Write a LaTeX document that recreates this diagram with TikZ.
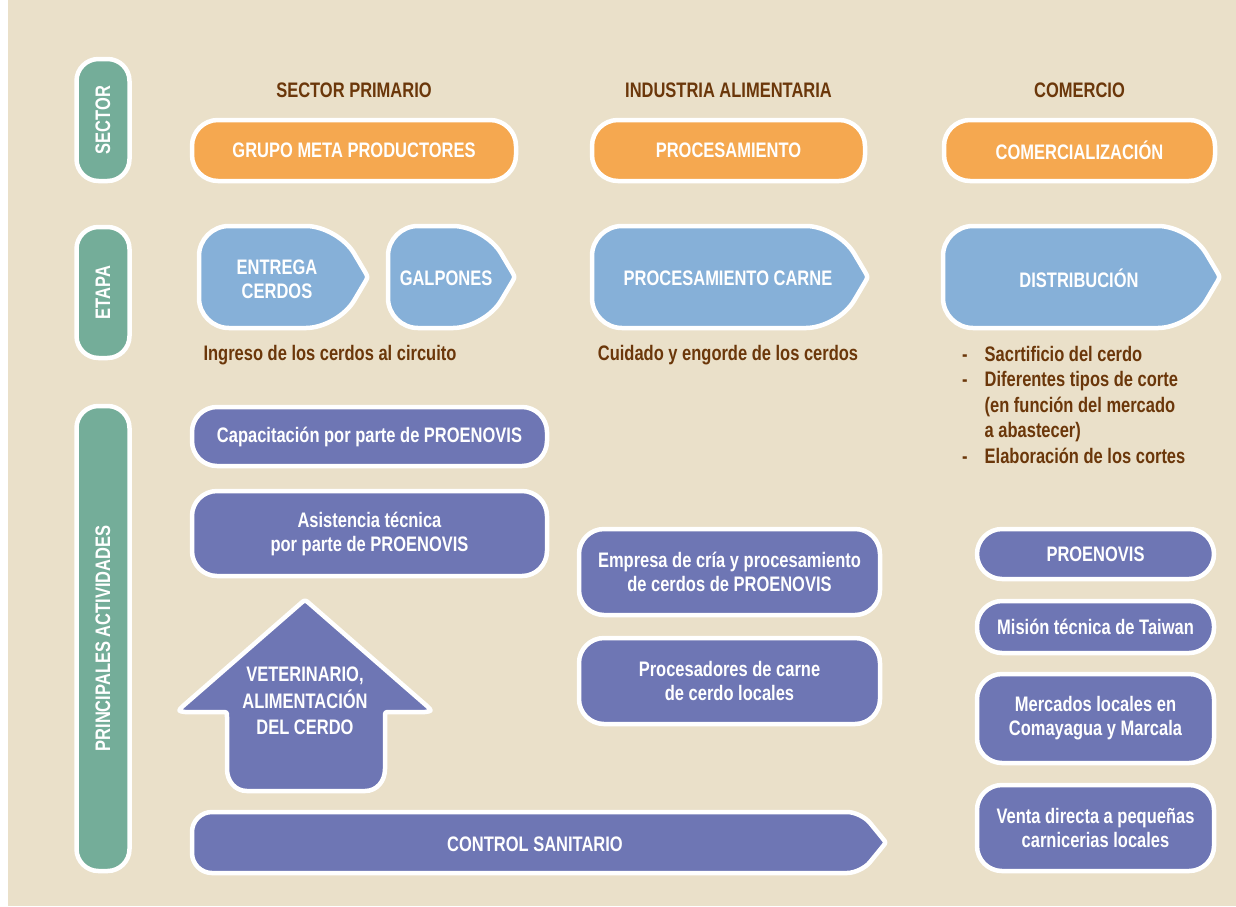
\documentclass[tikz,border=0pt]{standalone}
\usepackage{fontspec}
\setmainfont{Liberation Sans}[FakeStretch=0.785]
\definecolor{fondo}{RGB}{234,224,201}
\definecolor{verde}{RGB}{116,173,153}
\definecolor{naranja}{RGB}{245,168,80}
\definecolor{celeste}{RGB}{134,176,216}
\definecolor{lila}{RGB}{110,118,180}
\definecolor{marron}{RGB}{107,55,10}
% arrow shaped boxes (x start, x tip)
\def\etapa#1#2{(#1,256) .. controls (#1,239.5) and ({#1+13.5},226) .. ({#1+30},226) -- ({#2-62},226) .. controls ({#2-44.4},226) and ({#2-22.7},238.4) .. ({#2-13.8},253.6) -- ({#2-3},271.8) .. controls (#2,277) .. ({#2-3},282.2) -- ({#2-13.8},300.4) .. controls ({#2-22.7},315.6) and ({#2-44.4},328) .. ({#2-62},328) -- ({#1+30},328) .. controls ({#1+13.5},328) and (#1,314.5) .. (#1,298) -- cycle}
\def\control{(192,832) .. controls (192,821) and (201,812) .. (212,812) -- (847,812) .. controls (854.7,812) and (865,816.9) .. (869.9,822.8) -- (882.8,838.6) .. controls (886,842.5) .. (882.8,846.4) -- (869.9,862.2) .. controls (865,868.1) and (854.7,873) .. (847,873) -- (212,873) .. controls (201,873) and (192,864) .. (192,853) -- cycle}
\def\arriba{(300,604) .. controls (305,599.5) .. (310,604) -- (427,706) .. controls (432,711) .. (425,712) -- (390,712) .. controls (385,712) .. (385,717) -- (385,769) .. controls (385,781) and (377,791) .. (365,791) -- (247,791) .. controls (235,791) and (227,781) .. (227,769) -- (227,717) .. controls (227,712) .. (222,712) -- (185,712) .. controls (178,711) .. (183,706) -- cycle}
\tikzset{
  every node/.style={font=\bfseries\fontsize{21}{24}\selectfont, text=white, align=center, inner sep=0pt},
  pilar/.style={fill=verde, draw=white, line width=4.5pt, rounded corners=22pt, rotate=90, minimum height=53pt},
  grupo/.style={fill=naranja, draw=white, line width=4.5pt, rounded corners=26pt, minimum height=61pt},
  actividad/.style={fill=lila, draw=white, line width=4.5pt, rounded corners=25pt},
  titulo/.style={text=marron},
  borde/.style={draw=white, line width=4.5pt, line join=round}
}
\begin{document}
\begin{tikzpicture}[x=1pt,y=-1pt]
\useasboundingbox (0,0) rectangle (1236,906);
\fill[white] (0,0) rectangle (1236,906);
\fill[fondo] (8,0) rectangle (1236,906);

% left column
\node[pilar, minimum width=122pt] (sector) at (103,120) {SECTOR};
\node[pilar, minimum width=131pt] (etapa) at (103,292.5) {ETAPA};
\node[pilar, minimum width=465pt] (actividades) at (103,638.5) {PRINCIPALES ACTIVIDADES};

% sector row
\node[titulo] (primario) at (354,90) {SECTOR PRIMARIO};
\node[titulo] (industria) at (728.5,90) {INDUSTRIA ALIMENTARIA};
\node[titulo] (comercio) at (1079.5,90) {COMERCIO};
\node[grupo, minimum width=324pt] (productores) at (354,150.5) {GRUPO META PRODUCTORES};
\node[grupo, minimum width=273pt] (procesamiento) at (728.5,150.5) {PROCESAMIENTO};
\node[grupo, minimum width=271pt] (comercializacion) at (1079.5,150.5) {COMERCIALIZACIÓN};

% etapa row
\filldraw[borde, fill=celeste] \etapa{199}{368};
\filldraw[borde, fill=celeste] \etapa{388}{515};
\filldraw[borde, fill=celeste] \etapa{592}{868};
\filldraw[borde, fill=celeste] \etapa{943}{1220};
\node (entrega) at (277,279) {ENTREGA\\CERDOS};
\node (galpones) at (446,278) {GALPONES};
\node (carne) at (728,278) {PROCESAMIENTO CARNE};
\node (distribucion) at (1079,278) {DISTRIBUCIÓN};
\node[titulo] (ingreso) at (330,355) {Ingreso de los cerdos al circuito};
\node[titulo] (cuidado) at (728,355) {Cuidado y engorde de los cerdos};
\node[titulo, anchor=north west, align=left, font=\bfseries\fontsize{21}{25.5}\selectfont] (pasos) at (962,343)
  {\begin{tabular}{@{}l@{\hspace{17pt}}l@{}}
   - & Sacrtificio del cerdo\\
   - & Diferentes tipos de corte\\
     & (en función del mercado\\
     & a abastecer)\\
   - & Elaboración de los cortes
   \end{tabular}};

% actividades
\node[actividad, minimum width=355pt, minimum height=59pt] (capacitacion) at (369.5,436.5) {Capacitación por parte de PROENOVIS};
\node[actividad, minimum width=355pt, minimum height=85pt] (asistencia) at (369.5,533.5) {Asistencia técnica\\por parte de PROENOVIS};
\filldraw[borde, fill=lila] \arriba;
\node[font=\bfseries\fontsize{21}{26.5}\selectfont] (veterinario) at (305,701) {VETERINARIO,\\ALIMENTACIÓN\\DEL CERDO};
\filldraw[borde, fill=lila] \control;
\node (sanitario) at (535,844) {CONTROL SANITARIO};
\node[actividad, minimum width=301pt, minimum height=86pt] (empresa) at (729.5,572) {Empresa de cría y procesamiento\\de cerdos de PROENOVIS};
\node[actividad, minimum width=301pt, minimum height=86pt] (procesadores) at (729.5,681) {Procesadores de carne\\de cerdo locales};
\node[actividad, minimum width=237pt, minimum height=50pt] (proenovis) at (1095.5,554) {PROENOVIS};
\node[actividad, minimum width=237pt, minimum height=52pt] (mision) at (1095.5,627) {Misión técnica de Taiwan};
\node[actividad, minimum width=237pt, minimum height=89pt] (mercados) at (1095.5,718.5) {Mercados locales en\\Comayagua y Marcala};
\node[actividad, minimum width=237pt, minimum height=86pt] (venta) at (1095.5,828) {Venta directa a pequeñas\\carnicerias locales};
\end{tikzpicture}
\end{document}
